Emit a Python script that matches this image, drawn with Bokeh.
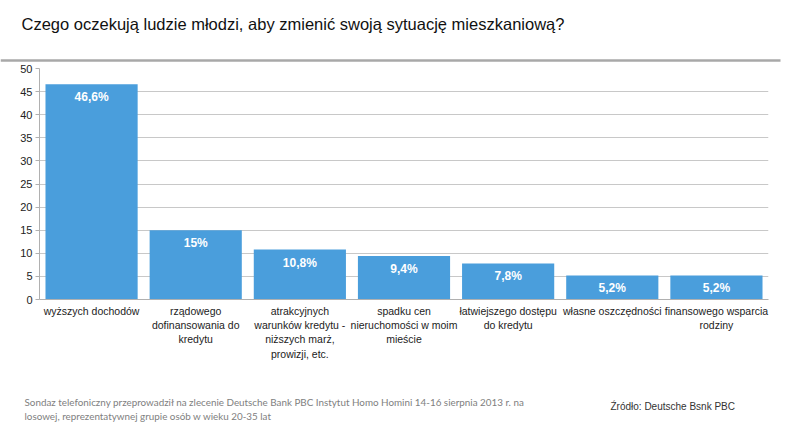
from bokeh.plotting import figure
from bokeh.models import ColumnDataSource, FactorRange, SingleIntervalTicker, LabelSet, Range1d
from bokeh.layouts import column
from bokeh.core.properties import value
from bokeh.embed import file_html
from bokeh.resources import INLINE

categories = [
    "wyższych dochodów",
    "rządowego\ndofinansowania do\nkredytu",
    "atrakcyjnych\nwarunków kredytu -\nniższych marż,\nprowizji, etc.",
    "spadku cen\nnieruchomości w moim\nmieście",
    "łatwiejszego dostępu\ndo kredytu",
    "własne oszczędności",
    "finansowego wsparcia\nrodziny",
]
values = [46.6, 15, 10.8, 9.4, 7.8, 5.2, 5.2]
value_labels = ["46,6%", "15%", "10,8%", "9,4%", "7,8%", "5,2%", "5,2%"]

title_text = "Czego oczekują ludzie młodzi, aby zmienić swoją sytuację mieszkaniową?"
note_lines = [
    "Sondaz telefoniczny przeprowadził na zlecenie Deutsche Bank PBC Instytut Homo Homini 14-16 sierpnia 2013 r. na",
    "losowej, reprezentatywnej grupie osób w wieku 20-35 lat",
]
source_text = "Źródło: Deutsche Bsnk PBC"

W = 788
TOP_H, MID_H, BOT_H = 62, 318, 45


def blank_fig(h):
    f = figure(width=W, height=h, x_range=Range1d(0, W), y_range=Range1d(h, 0),
               output_backend="svg", toolbar_location=None, frame_align=False,
               min_border=0, min_border_left=0, min_border_right=0,
               min_border_top=0, min_border_bottom=0)
    f.axis.visible = False
    f.grid.visible = False
    f.outline_line_color = None
    f.background_fill_color = "white"
    f.border_fill_color = "white"
    return f


# header
top = blank_fig(TOP_H)
top.text(x=[21], y=[23], text=[title_text], text_font=value("Liberation Sans"),
         text_font_size="16.5px", text_color="#111111", text_baseline="middle")
top.segment(x0=[0], y0=[60], x1=[780], y1=[60], line_color="#a8a8a8", line_width=2.5)

# chart
src = ColumnDataSource(dict(cat=categories, val=values, lab=value_labels))
p = figure(x_range=FactorRange(*categories, range_padding=0), y_range=(0, 50),
           width=W, height=MID_H, output_backend="svg", toolbar_location=None, frame_align=False,
           min_border_left=39, min_border_right=20, min_border_top=6, min_border_bottom=81)
p.outline_line_color = None
p.background_fill_color = "white"
p.border_fill_color = "white"

p.vbar(x="cat", top="val", width=0.885, source=src, fill_color="#4A9EDC", line_color=None)

labels = LabelSet(x="cat", y="val", text="lab", source=src, text_color="white",
                  text_font=value("Liberation Sans"), text_font_style="bold", text_font_size="12px",
                  text_align="center", text_baseline="middle", y_offset=-13)
p.add_layout(labels)

p.yaxis.ticker = SingleIntervalTicker(interval=5)
p.ygrid.ticker = SingleIntervalTicker(interval=5)
p.ygrid.grid_line_color = "#c8c8c8"
p.ygrid.grid_line_width = 1
p.xgrid.grid_line_color = None

for ax in (p.xaxis, p.yaxis):
    ax.axis_line_color = "#b0b0b0"
    ax.minor_tick_line_color = None
    ax.major_label_text_font = "Liberation Sans"
    ax.major_label_text_color = "#222222"
p.yaxis.major_tick_line_color = "#b0b0b0"
p.yaxis.major_tick_in = 0
p.yaxis.major_tick_out = 4
p.yaxis.major_label_text_font_size = "11px"
p.yaxis.major_label_standoff = 3
p.xaxis.major_tick_line_color = None
p.xaxis.major_tick_in = 0
p.xaxis.major_tick_out = 0
p.xaxis.major_label_text_font_size = "10.5px"
p.xaxis.major_label_standoff = 5

# footer
bot = blank_fig(BOT_H)
bot.text(x=[24, 24], y=[21, 35], text=note_lines, text_font=value("Lato"),
         text_font_size="9.85px", text_color="#808080", text_baseline="middle")
bot.text(x=[610], y=[26], text=[source_text], text_font=value("Liberation Sans"),
         text_font_size="10px", text_color="#333333", text_baseline="middle")

layout = column(top, p, bot, spacing=0)
open("out.html", "w").write(file_html(layout, INLINE))
